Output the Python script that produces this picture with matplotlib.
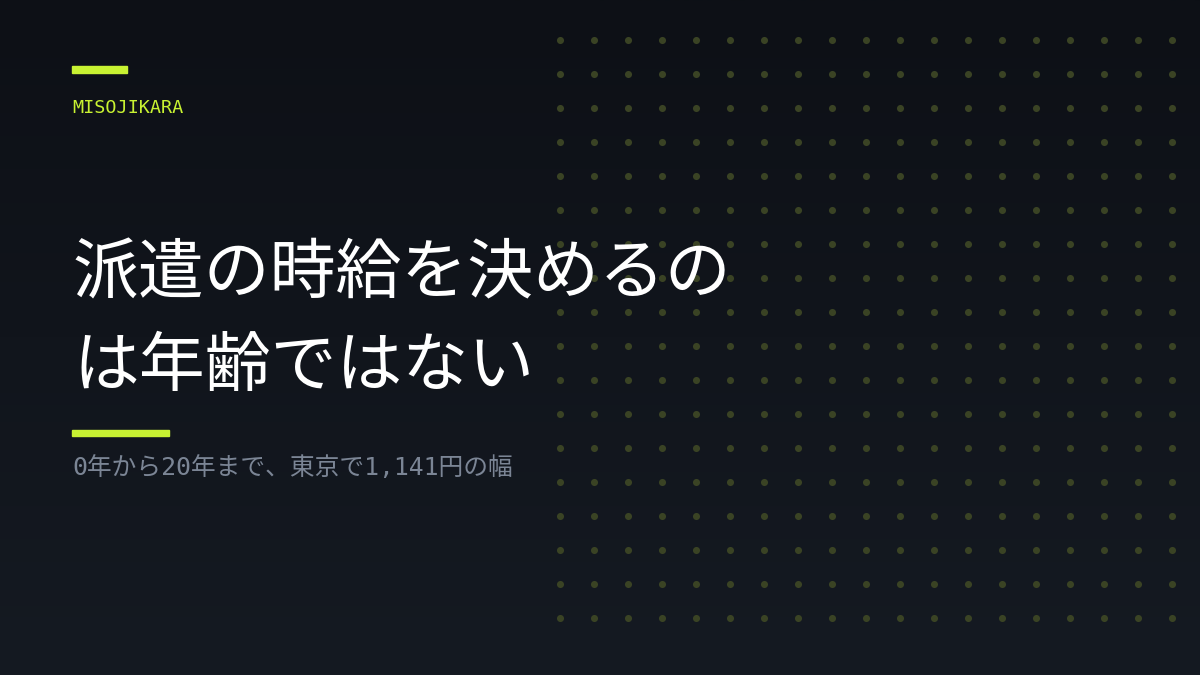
import numpy as np
from matplotlib import pyplot as plt
from matplotlib.colors import LinearSegmentedColormap

# texts
brand = "MISOJIKARA"
title_lines = ["派遣の時給を決めるの", "は年齢ではない"]
subtitle = "0年から20年まで、東京で1,141円の幅"

# dot grid (pixel space)
dot_cols = np.arange(560, 1180, 34)
dot_rows = np.arange(40, 625, 34)

LIME = "#c8f232"
DOT = "#3a4324"
GRAY = "#7b8595"
WHITE = "#ffffff"


def main():
    W, H = 1200, 675
    fig = plt.figure(figsize=(12, 6.75), dpi=100)
    ax = fig.add_axes([0, 0, 1, 1])
    ax.set_xlim(0, W)
    ax.set_ylim(H, 0)
    ax.axis("off")

    # background gradient, top to bottom
    cmap = LinearSegmentedColormap.from_list("bg", ["#0d1016", "#151a22"])
    grad = np.linspace(0, 1, 256).reshape(-1, 1)
    ax.imshow(grad, cmap=cmap, extent=[0, W, H, 0], aspect="auto", zorder=0)

    # dots
    gx, gy = np.meshgrid(dot_cols, dot_rows)
    ax.scatter(gx.ravel(), gy.ravel(), s=26, color=DOT, linewidths=0, zorder=1)

    # accent bars
    ax.add_patch(plt.Rectangle((72, 66), 55, 7, color=LIME, zorder=2))
    ax.add_patch(plt.Rectangle((72, 430), 97, 6, color=LIME, zorder=2))

    ax.text(72, 108, brand, color=LIME, fontsize=13.3, family="DejaVu Sans Mono",
            va="center", ha="left", zorder=3)

    for i, line in enumerate(title_lines):
        ax.text(73, 275 + i * 92, line, color=WHITE, fontsize=47.4,
                family=["Noto Sans CJK JP", "DejaVu Sans"],
                va="center", ha="left", zorder=3)

    ax.text(72, 468, subtitle, color=GRAY, fontsize=17.8,
            family=["DejaVu Sans Mono", "Noto Sans CJK JP"],
            va="center", ha="left", zorder=3)

    fig.savefig("out.png", dpi=100)


if __name__ == '__main__':
    main()
